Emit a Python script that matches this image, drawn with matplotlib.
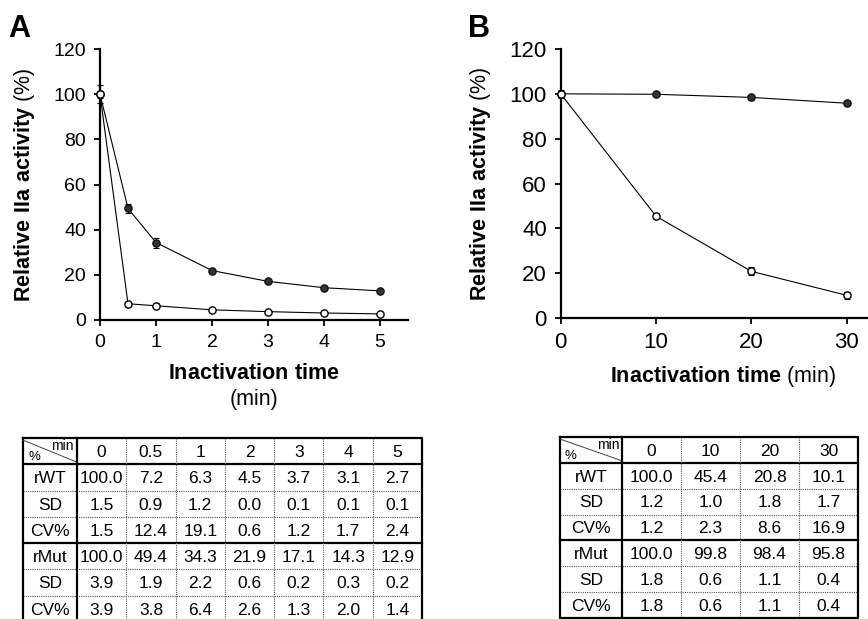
import numpy as np
import matplotlib
matplotlib.use('Agg')
import matplotlib.pyplot as plt

plt.rcParams['font.family'] = ['Liberation Sans', 'DejaVu Sans']
plt.rcParams['mathtext.fontset'] = 'custom'
plt.rcParams['mathtext.rm'] = 'Liberation Sans'
plt.rcParams['mathtext.bf'] = 'Liberation Sans:bold'

# panel A data
time_a = [0, 0.5, 1, 2, 3, 4, 5]
time_a_labels = ['0', '0.5', '1', '2', '3', '4', '5']
xticks_a = [0, 1, 2, 3, 4, 5]
rwt_a = [100.0, 7.2, 6.3, 4.5, 3.7, 3.1, 2.7]
rwt_a_sd = [1.5, 0.9, 1.2, 0.0, 0.1, 0.1, 0.1]
rwt_a_cv = [1.5, 12.4, 19.1, 0.6, 1.2, 1.7, 2.4]
rmut_a = [100.0, 49.4, 34.3, 21.9, 17.1, 14.3, 12.9]
rmut_a_sd = [3.9, 1.9, 2.2, 0.6, 0.2, 0.3, 0.2]
rmut_a_cv = [3.9, 3.8, 6.4, 2.6, 1.3, 2.0, 1.4]

# panel B data
time_b = [0, 10, 20, 30]
time_b_labels = ['0', '10', '20', '30']
xticks_b = [0, 10, 20, 30]
rwt_b = [100.0, 45.4, 20.8, 10.1]
rwt_b_sd = [1.2, 1.0, 1.8, 1.7]
rwt_b_cv = [1.2, 2.3, 8.6, 16.9]
rmut_b = [100.0, 99.8, 98.4, 95.8]
rmut_b_sd = [1.8, 0.6, 1.1, 0.4]
rmut_b_cv = [1.8, 0.6, 1.1, 0.4]

row_labels = ['rWT', 'SD', 'CV%', 'rMut', 'SD', 'CV%']
yticks = [0, 20, 40, 60, 80, 100, 120]

W, H = 868, 619
fig = plt.figure(figsize=(W / 100, H / 100), dpi=100)


def px_axes(left, right, top, bottom):
    return fig.add_axes([left / W, (H - bottom) / H, (right - left) / W, (bottom - top) / H])


def style_plot(ax, xmax, xticks, tick_size):
    ax.set_xlim(0, xmax)
    ax.set_ylim(0, 120)
    ax.spines['top'].set_visible(False)
    ax.spines['right'].set_visible(False)
    for s in ('left', 'bottom'):
        ax.spines[s].set_linewidth(1.6)
    ax.set_xticks(xticks)
    ax.set_xticklabels([str(t) for t in xticks])
    ax.set_yticks(yticks)
    ax.tick_params(axis='both', labelsize=tick_size, length=4, width=1.3, direction='out', pad=6)
    ax.set_ylabel(r'$\mathbf{Relative\ IIa\ activity}$ (%)', fontsize=15.5, labelpad=12)


def plot_series(ax, x, wt, wt_sd, mut, mut_sd):
    ax.errorbar(x, mut, yerr=mut_sd, color='black', lw=0.8, elinewidth=0.8, capsize=2.5,
                capthick=0.8, marker='o', ms=5.2, mfc='#333333', mec='#111111', zorder=3,
                clip_on=False)
    ax.errorbar(x, wt, yerr=wt_sd, color='black', lw=0.8, elinewidth=0.8, capsize=2.5,
                capthick=0.8, marker='o', ms=5.2, mfc='white', mec='black', zorder=4,
                clip_on=False)


def draw_table(ax, col_labels, rows, first_w):
    ncol = len(col_labels)
    nrow = len(rows) + 1
    ax.set_xlim(0, 1)
    ax.set_ylim(nrow, 0)
    ax.axis('off')
    edges = [0] + list(first_w + (1 - first_w) * np.arange(0, ncol + 1) / ncol)
    thin = dict(color='#555555', lw=0.8, ls=(0, (1, 1)), clip_on=False)
    thick = dict(color='black', lw=1.6, clip_on=False)
    for r in range(1, nrow):
        ax.plot([0, 1], [r, r], **(thick if r in (1, 4) else thin))
    for e in edges[2:-1]:
        ax.plot([e, e], [0, nrow], **thin)
    ax.plot([edges[1], edges[1]], [0, nrow], **thick)
    ax.plot([0, 1, 1, 0, 0], [0, 0, nrow, nrow, 0], **thick)
    # header corner cell
    ax.plot([0, edges[1]], [0.08, 0.92], color='#444444', lw=0.7, clip_on=False)
    ax.text(edges[1] - 0.008, 0.3, 'min', ha='right', va='center', fontsize=10)
    ax.text(0.015, 0.72, '%', ha='left', va='center', fontsize=9.5)
    for c, lab in enumerate(col_labels):
        xc = (edges[c + 1] + edges[c + 2]) / 2
        ax.text(xc, 0.55, lab, ha='center', va='center', fontsize=12.5)
    for r, (name, vals) in enumerate(rows):
        y = r + 1.55
        ax.text(edges[1] / 2, y, name, ha='center', va='center', fontsize=12.5)
        for c, v in enumerate(vals):
            xc = (edges[c + 1] + edges[c + 2]) / 2
            ax.text(xc, y, f'{v:.1f}', ha='center', va='center', fontsize=12.5)


# panel A
ax_a = px_axes(100, 408, 49, 320)
style_plot(ax_a, 5.5, xticks_a, 14)
plot_series(ax_a, time_a, rwt_a, rwt_a_sd, rmut_a, rmut_a_sd)
ax_a.set_xlabel('$\\mathbf{Inactivation\\ time}$\n(min)', fontsize=15.5, labelpad=9, linespacing=1.3)

# panel B
ax_b = px_axes(560.7, 885, 49, 318)
style_plot(ax_b, 34, xticks_b, 16)
plot_series(ax_b, time_b, rwt_b, rwt_b_sd, rmut_b, rmut_b_sd)
ax_b.set_xlabel(r'$\mathbf{Inactivation\ time}$ (min)', fontsize=15.5, labelpad=8)

fig.text(8 / W, 1 - 37 / H, 'A', fontsize=22, fontweight='bold')
fig.text(468 / W, 1 - 37 / H, 'B', fontsize=22, fontweight='bold')

# tables
tab_a = px_axes(23, 422, 438, 622)
draw_table(tab_a, time_a_labels,
           list(zip(row_labels, [rwt_a, rwt_a_sd, rwt_a_cv, rmut_a, rmut_a_sd, rmut_a_cv])),
           54 / 399)
tab_b = px_axes(560, 858, 437, 618)
draw_table(tab_b, time_b_labels,
           list(zip(row_labels, [rwt_b, rwt_b_sd, rwt_b_cv, rmut_b, rmut_b_sd, rmut_b_cv])),
           62 / 298)

fig.savefig('out.png', dpi=100)
